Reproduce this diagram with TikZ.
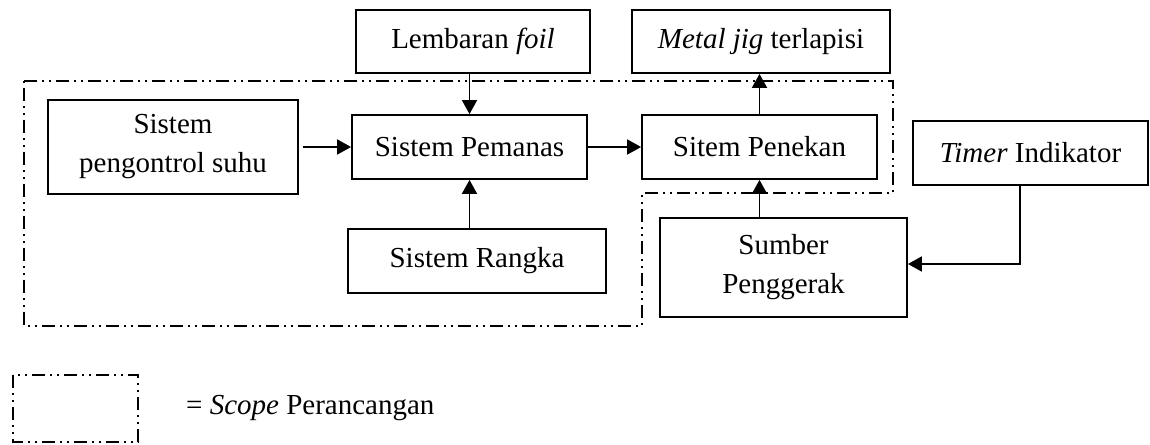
\documentclass[tikz,border=0pt]{standalone}
\usepackage{fontspec}
\setmainfont{Liberation Serif}
\usetikzlibrary{arrows.meta}
\begin{document}
\begin{tikzpicture}[x=1pt,y=-1pt,
  every node/.style={font=\fontsize{29}{39}\selectfont},
  box/.style={draw, line width=1.8pt, inner sep=0pt, align=center},
  arr/.style={line width=1.8pt, -{Triangle[length=14pt,width=15pt]}},
  scopeline/.style={line width=1.7pt, dash pattern=on 13pt off 5pt on 2pt off 5pt on 2pt off 5pt}]
\useasboundingbox (0,0) rectangle (1150,444);
% scope boundary
\draw[scopeline] (24,81) -- (893,81) -- (893,193) -- (642,193) -- (642,326) -- (24,326) -- cycle;
% boxes
\node[box, minimum width=234pt, minimum height=63pt] (foil) at (473,41.5) {Lembaran \textit{foil}};
\node[box, minimum width=258pt, minimum height=63pt] (metal) at (761,41.5) {\textit{Metal jig} terlapisi};
\node[box, minimum width=250pt, minimum height=94pt] (ctl) at (173,147) {Sistem\\pengontrol suhu};
\node[box, minimum width=235pt, minimum height=64pt] (pemanas) at (469.5,147) {Sistem Pemanas};
\node[box, minimum width=258pt, minimum height=64pt] (rangka) at (477,261) {Sistem Rangka};
\node[box, minimum width=235pt, minimum height=64pt] (penekan) at (759.5,147) {Sitem Penekan};
\node[box, minimum width=247pt, minimum height=99pt] (sumber) at (783.5,267.5) {Sumber\\Penggerak};
\node[box, minimum width=235pt, minimum height=64pt] (timer) at (1030.5,153) {\textit{Timer} Indikator};
% connectors
\draw[arr] (pemanas.north |- foil.south) -- (pemanas.north);
\draw[arr] (penekan.north) -- (penekan.north |- metal.south);
\draw[arr, shorten <=4pt] (ctl.east) -- (pemanas.west);
\draw[arr] (pemanas.east) -- (penekan.west);
\draw[arr] (pemanas.south |- rangka.north) -- (pemanas.south);
\draw[arr] (penekan.south |- sumber.north) -- (penekan.south);
\coordinate (tb) at (1020,264);
\draw[arr] (timer.south -| tb) -- (tb) -- (sumber.east |- tb);
% legend
\draw[scopeline] (13,375) rectangle (138,442);
\node[anchor=west, inner sep=0pt] (legend) at (186,408) {= \textit{Scope} Perancangan};
\end{tikzpicture}
\end{document}
